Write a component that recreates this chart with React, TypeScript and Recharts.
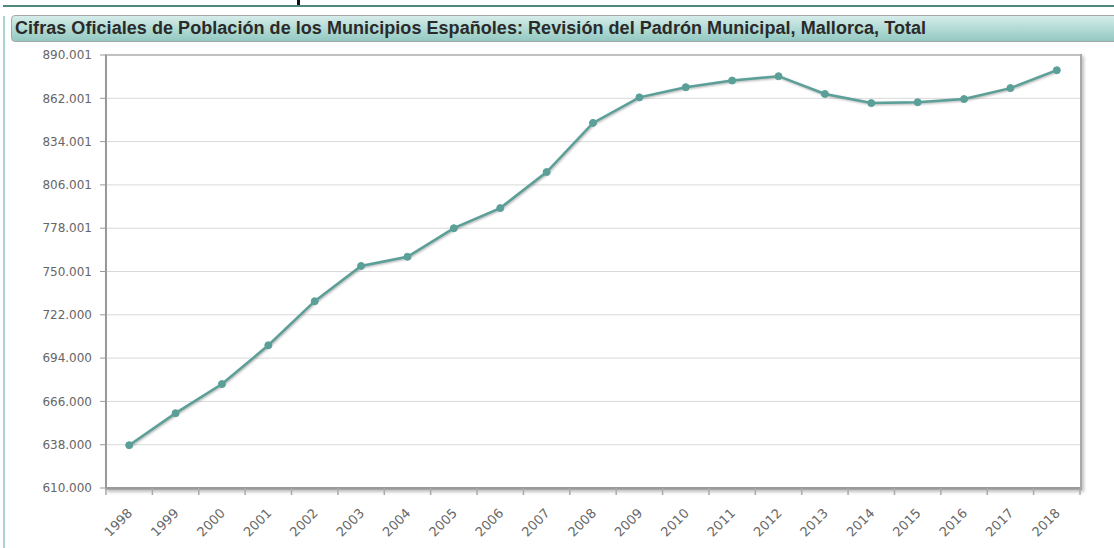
import React from "react";
import { LineChart, Line, XAxis, YAxis, CartesianGrid } from "recharts";

const years = [
  "1998", "1999", "2000", "2001", "2002", "2003", "2004", "2005", "2006", "2007",
  "2008", "2009", "2010", "2011", "2012", "2013", "2014", "2015", "2016", "2017", "2018",
];

const population = [
  637700, 658400, 677200, 702300, 730800, 753600, 759500, 778000, 791000, 814300,
  846100, 862600, 869200, 873500, 876300, 864800, 858900, 859500, 861500, 868600, 880200,
];

const yTicks = [610000, 638000, 666000, 694000, 722000, 750001, 778001, 806001, 834001, 862001, 890001];

const TITLE =
  "Cifras Oficiales de Población de los Municipios Españoles: Revisión del Padrón Municipal, Mallorca, Total";

const data = years.map((y, i) => ({ year: y, total: population[i] }));

const fmt = (n: number) => String(Math.round(n)).replace(/\B(?=(\d{3})+(?!\d))/g, ".");

// plot area geometry
const PLOT_LEFT = 106;
const PLOT_TOP = 55;
const PLOT_RIGHT = 1080;
const PLOT_BOTTOM = 488;
const HALF_BAND = (PLOT_RIGHT - PLOT_LEFT) / years.length / 2;

function YearTick(props: any) {
  const { x, payload, index } = props;
  const last = index === years.length - 1;
  const ax = x + 4;
  const ay = PLOT_BOTTOM + 26;
  return (
    <g>
      <line x1={x - HALF_BAND} x2={x - HALF_BAND} y1={PLOT_BOTTOM} y2={PLOT_BOTTOM + 7} stroke="#aaa" strokeWidth={1.5} />
      {last && (
        <line x1={x + HALF_BAND} x2={x + HALF_BAND} y1={PLOT_BOTTOM} y2={PLOT_BOTTOM + 7} stroke="#aaa" strokeWidth={1.5} />
      )}
      <text
        x={ax}
        y={ay}
        transform={`rotate(-45, ${ax}, ${ay})`}
        textAnchor="end"
        fill="#666"
        fontSize={13}
        fontFamily="DejaVu Sans, Verdana, sans-serif"
      >
        {payload.value}
      </text>
    </g>
  );
}

export default function App() {
  return (
    <div
      style={{
        position: "fixed",
        left: 0,
        top: 0,
        width: 1114,
        height: 548,
        background: "#fff",
        overflow: "hidden",
        fontFamily: "Liberation Sans, Arial, sans-serif",
      }}
    >
      <style>{`.recharts-line { filter: drop-shadow(1px 1px 1px rgba(0,0,0,0.3)); }`}</style>

      {/* page chrome */}
      <div style={{ position: "absolute", left: 3, top: 5, width: 1111, height: 2, background: "#4f8880" }} />
      <div style={{ position: "absolute", left: 297, top: 0, width: 3, height: 5, background: "#111" }} />
      <div style={{ position: "absolute", left: 3, top: 16, width: 2, height: 532, background: "#a9d6d0" }} />
      <div
        style={{
          position: "absolute",
          left: 11,
          top: 15,
          width: 1110,
          height: 27,
          boxSizing: "border-box",
          border: "1px solid #a6a6a6",
          borderRadius: "4px 0 0 4px",
          background: "linear-gradient(to bottom, #d6ecea 0%, #b3dbd5 50%, #93c9c1 100%)",
          fontWeight: "bold",
          fontSize: 18,
          letterSpacing: 0.05,
          color: "#2a2a2a",
          lineHeight: "25px",
          paddingLeft: 3,
          whiteSpace: "nowrap",
        }}
      >
        {TITLE}
      </div>

      {/* plot frame */}
      <div
        style={{
          position: "absolute",
          left: PLOT_LEFT - 1,
          top: PLOT_TOP - 1,
          width: PLOT_RIGHT - PLOT_LEFT + 3,
          height: PLOT_BOTTOM - PLOT_TOP + 3,
          boxSizing: "border-box",
          border: "2px solid #a8a8a8",
          boxShadow: "2px 2px 3px rgba(0,0,0,0.25)",
        }}
      />

      <div style={{ position: "absolute", left: 0, top: 0 }}>
        <LineChart
          width={1114}
          height={548}
          data={data}
          margin={{ top: PLOT_TOP, right: 1114 - PLOT_RIGHT, bottom: 0, left: 0 }}
        >
          <CartesianGrid vertical={false} stroke="#d9d9d9" strokeWidth={1} />
          <XAxis
            dataKey="year"
            scale="band"
            interval={0}
            tickLine={false}
            axisLine={{ stroke: "#999", strokeWidth: 2 }}
            tick={<YearTick />}
            height={548 - PLOT_BOTTOM}
          />
          <YAxis
            width={PLOT_LEFT}
            domain={[610000, 890001]}
            ticks={yTicks}
            tickFormatter={fmt}
            tickSize={6}
            tickMargin={8}
            tickLine={{ stroke: "#999" }}
            axisLine={{ stroke: "#999", strokeWidth: 2 }}
            tick={{ fill: "#666", fontSize: 12, fontFamily: "DejaVu Sans, Verdana, sans-serif" }}
            interval={0}
          />
          <Line
            type="linear"
            dataKey="total"
            stroke="#5a9f98"
            strokeWidth={2.5}
            dot={{ r: 3.5, fill: "#5a9f98", stroke: "#5a9f98", strokeWidth: 1 }}
            activeDot={false}
            isAnimationActive={false}
          />
        </LineChart>
      </div>
    </div>
  );
}
